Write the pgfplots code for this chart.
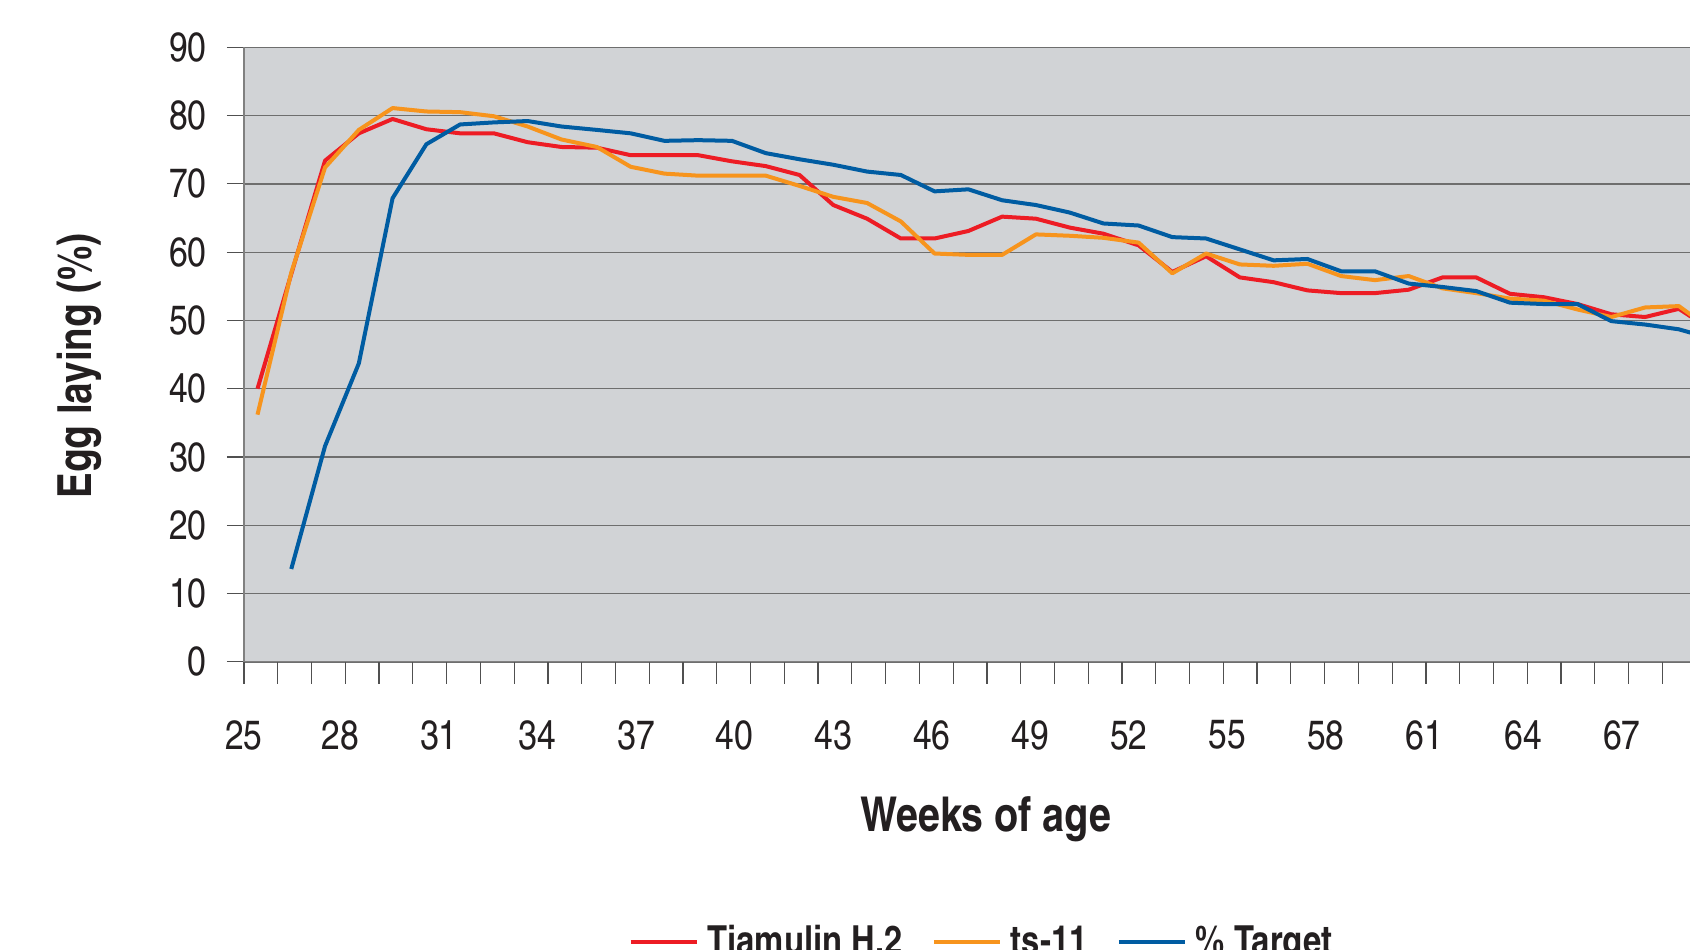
\documentclass[border=0pt]{standalone}
\usepackage{fontspec}
\setmainfont{texgyreheroscn}[Extension=.otf, UprightFont=*-regular, BoldFont=*-bold, ItalicFont=*-italic, BoldItalicFont=*-bolditalic]
\usepackage{pgfplots}
\pgfplotsset{compat=1.18}
\definecolor{bgc}{RGB}{209,211,214}
\definecolor{gridc}{RGB}{110,110,110}
\definecolor{axisc}{RGB}{128,128,128}
\definecolor{tickc}{RGB}{80,80,80}
\definecolor{textc}{RGB}{35,31,32}
\definecolor{redc}{RGB}{237,28,36}
\definecolor{orangec}{RGB}{247,148,29}
\definecolor{bluec}{RGB}{0,92,162}
\begin{document}
\begin{tikzpicture}
\begin{axis}[
  name=ax,
  scale only axis,
  width=723pt, height=307.3pt,
  xmin=25, xmax=67.82, ymin=0, ymax=90,
  axis background/.style={fill=bgc},
  axis x line*=bottom, axis y line*=left,
  axis line style={draw=axisc, line width=0.6pt, -},
  ytick={0,10,...,90},
  ymajorgrids,
  major grid style={draw=gridc, line width=0.65pt},
  xtick={25.00,27.85,30.77,33.69,36.61,39.53,42.45,45.37,48.29,51.20,54.12,57.04,59.96,62.88,65.80},
  xticklabels={25,28,31,34,37,40,43,46,49,52,55,58,61,64,67},
  minor xtick={25,26,...,67},
  tick align=outside,
  xtick style={/pgfplots/major tick length=0pt, /pgfplots/minor tick length=11pt, draw=tickc, line width=0.6pt},
  ytick style={/pgfplots/major tick length=8.5pt, draw=tickc, line width=0.6pt},
  /pgf/number format/assume math mode=true,
  tick label style={font=\fontsize{20.5}{20.5}\selectfont, text=textc},
  xticklabel style={anchor=north, yshift=-21.5pt},
  yticklabel style={anchor=east, xshift=-11pt},
  xlabel={Weeks of age},
  xlabel style={font=\bfseries\fontsize{24}{24}\selectfont, text=textc, at={(axis description cs:0.513,-0.2558)}, anchor=center},
  ylabel={Egg laying (\%)},
  ylabel style={font=\bfseries\fontsize{23.5}{23.5}\selectfont, text=textc, at={(axis description cs:-0.1141,0.4815)}, anchor=center},
  legend style={at={(axis description cs:0.5107,-0.4554)}, anchor=center, draw=none, fill=none,
    font=\bfseries\fontsize{20}{20}\selectfont, text=textc, legend columns=3,
    /tikz/every odd column/.append style={column sep=2.5pt},
    /tikz/every even column/.append style={column sep=12.7pt}},
  legend cell align=left,
  legend image code/.code={\draw[#1, line width=2pt] (0pt,0pt) -- (33pt,0pt);},
]
\addplot[color=redc, line width=2pt, line join=round, no markers] coordinates {
(25.40,40.0) (26.40,56.8) (27.40,73.4) (28.40,77.4) (29.40,79.5) (30.40,78.0)
(31.40,77.4) (32.40,77.4) (33.40,76.1) (34.40,75.4) (35.45,75.3) (36.45,74.2)
(37.45,74.2) (38.45,74.2) (39.45,73.3) (40.45,72.6) (41.45,71.3) (42.45,66.9)
(43.45,64.9) (44.45,62.0) (45.45,62.0) (46.45,63.1) (47.45,65.2) (48.45,64.9)
(49.45,63.6) (50.45,62.7) (51.49,61.0) (52.49,57.1) (53.49,59.4) (54.49,56.3)
(55.49,55.6) (56.49,54.4) (57.49,54.0) (58.49,54.0) (59.49,54.5) (60.49,56.3)
(61.49,56.3) (62.49,53.9) (63.49,53.4) (64.49,52.4) (65.49,50.9) (66.49,50.5)
(67.49,51.7) (68.49,48.5)
};
\addlegendentry{Tiamulin H.2}
\addplot[color=orangec, line width=2pt, line join=round, no markers] coordinates {
(25.40,36.2) (26.40,57.0) (27.40,72.4) (28.40,77.9) (29.40,81.1) (30.40,80.6)
(31.40,80.5) (32.40,79.9) (33.40,78.4) (34.40,76.5) (35.45,75.4) (36.45,72.5)
(37.45,71.5) (38.45,71.2) (39.45,71.2) (40.45,71.2) (41.45,69.7) (42.45,68.1)
(43.45,67.2) (44.45,64.5) (45.45,59.8) (46.45,59.6) (47.45,59.6) (48.45,62.6)
(49.45,62.4) (50.45,62.1) (51.49,61.4) (52.49,56.9) (53.49,59.8) (54.49,58.2)
(55.49,58.0) (56.49,58.3) (57.49,56.5) (58.49,55.9) (59.49,56.5) (60.49,54.7)
(61.49,54.0) (62.49,53.2) (63.49,52.9) (64.49,51.6) (65.49,50.5) (66.49,51.9)
(67.49,52.1) (68.49,48.5)
};
\addlegendentry{ts-11}
\addplot[color=bluec, line width=2pt, line join=round, no markers] coordinates {
(26.40,13.6) (27.40,31.6) (28.40,43.7) (29.40,67.9) (30.40,75.8)
(31.40,78.7) (32.40,79.0) (33.40,79.2) (34.40,78.4) (35.45,77.9) (36.45,77.4)
(37.45,76.3) (38.45,76.4) (39.45,76.3) (40.45,74.5) (41.45,73.6) (42.45,72.8)
(43.45,71.8) (44.45,71.3) (45.45,68.9) (46.45,69.2) (47.45,67.6) (48.45,66.9)
(49.45,65.8) (50.45,64.2) (51.49,63.9) (52.49,62.2) (53.49,62.0) (54.49,60.4)
(55.49,58.8) (56.49,59.0) (57.49,57.2) (58.49,57.2) (59.49,55.4) (60.49,54.9)
(61.49,54.3) (62.49,52.6) (63.49,52.4) (64.49,52.4) (65.49,49.9) (66.49,49.4)
(67.49,48.7) (68.49,47.3)
};
\addlegendentry{\% Target}
\end{axis}
\pgfresetboundingbox
\useasboundingbox ([xshift=-122pt,yshift=-144.05pt]ax.south west) rectangle ([yshift=23.65pt]ax.north east);
\end{tikzpicture}
\end{document}
